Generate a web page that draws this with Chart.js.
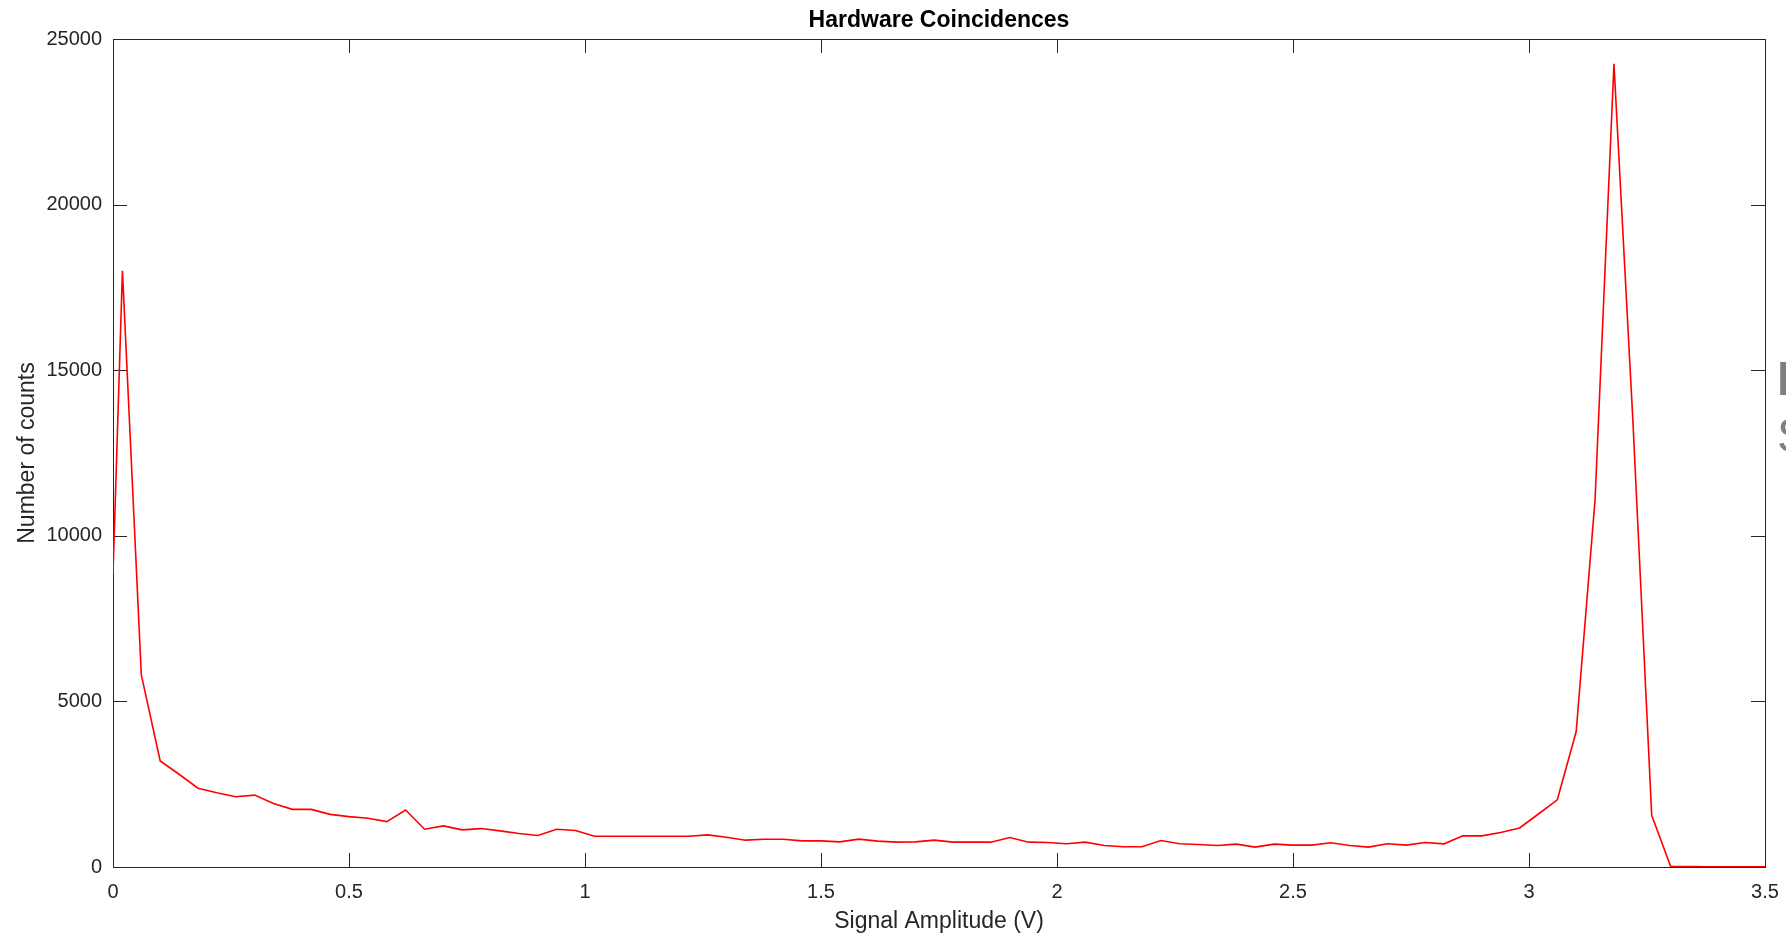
<!DOCTYPE html>
<html>
<head>
<meta charset="utf-8">
<title>Hardware Coincidences</title>
<script src="https://cdn.jsdelivr.net/npm/chart.js@4"></script>
<style>
    html, body { margin: 0; padding: 0; background: #fff; overflow: hidden; }
    #wrap { position: relative; width: 1786px; height: 938px; }
    .slide { position: absolute; left: 1777px; font-family: "Liberation Sans", Arial, sans-serif; font-size: 48px; line-height: 1; color: #7f7f7f; white-space: nowrap; }
</style>
</head>
<body>
<div id="wrap">
    <canvas id="coincChart" width="1786" height="938"></canvas>
    <div class="slide" style="top:355px;font-weight:bold;">F</div>
    <div class="slide" style="top:412px;">S</div>
</div>
<script>
// bin centres (V) and counts
const amplitude = [
    0, 0.02, 0.06, 0.10, 0.14, 0.18, 0.22, 0.26, 0.30, 0.34, 0.38, 0.42, 0.46, 0.50, 0.54, 0.58,
    0.62, 0.66, 0.70, 0.74, 0.78, 0.82, 0.86, 0.90, 0.94, 0.98, 1.02, 1.06, 1.10, 1.14, 1.18, 1.22,
    1.26, 1.30, 1.34, 1.38, 1.42, 1.46, 1.50, 1.54, 1.58, 1.62, 1.66, 1.70, 1.74, 1.78, 1.82, 1.86,
    1.90, 1.94, 1.98, 2.02, 2.06, 2.10, 2.14, 2.18, 2.22, 2.26, 2.30, 2.34, 2.38, 2.42, 2.46, 2.50,
    2.54, 2.58, 2.62, 2.66, 2.70, 2.74, 2.78, 2.82, 2.86, 2.90, 2.94, 2.98, 3.02, 3.06, 3.10, 3.14,
    3.18, 3.22, 3.26, 3.30, 3.34, 3.38, 3.42, 3.46, 3.50
];
const counts = [
    8850, 18000, 5800, 3200, 2800, 2380, 2240, 2120, 2170, 1920, 1740, 1740, 1590, 1520, 1470, 1370,
    1720, 1140, 1240, 1120, 1160, 1090, 1010, 950, 1140, 1100, 930, 930, 930, 930, 930, 930,
    970, 900, 810, 840, 840, 790, 790, 760, 840, 780, 750, 760, 810, 750, 750, 750,
    890, 750, 740, 700, 750, 650, 610, 610, 800, 700, 680, 650, 690, 600, 690, 660,
    660, 730, 650, 600, 700, 660, 740, 700, 940, 940, 1040, 1180, 1600, 2030, 4090, 11100,
    24250, 13500, 1560, 20, 10, 5, 5, 5, 5
];
const xTicks = [0, 0.5, 1, 1.5, 2, 2.5, 3, 3.5];
const yTicks = [0, 5000, 10000, 15000, 20000, 25000];

const FONT = '"Liberation Sans", Arial, Helvetica, sans-serif';
const axisColor = '#262626';
const tickLen = 14;

// MATLAB style box with inward tick marks on all four sides
const frameTicks = {
    id: 'frameTicks',
    beforeDatasetsDraw(chart) {
        const { ctx, chartArea: a, scales: { x, y } } = chart;
        ctx.save();
        ctx.strokeStyle = axisColor;
        ctx.lineWidth = 1;
        ctx.beginPath();
        x.ticks.forEach(t => {
            const px = Math.round(x.getPixelForValue(t.value)) + 0.5;
            ctx.moveTo(px, a.bottom); ctx.lineTo(px, a.bottom - tickLen);
            ctx.moveTo(px, a.top); ctx.lineTo(px, a.top + tickLen);
        });
        y.ticks.forEach(t => {
            const py = Math.round(y.getPixelForValue(t.value)) + 0.5;
            ctx.moveTo(a.left, py); ctx.lineTo(a.left + tickLen, py);
            ctx.moveTo(a.right, py); ctx.lineTo(a.right - tickLen, py);
        });
        ctx.stroke();
        ctx.strokeRect(Math.round(a.left) + 0.5, Math.round(a.top) + 0.5,
            Math.round(a.right - a.left), Math.round(a.bottom - a.top));
        ctx.restore();
    }
};

new Chart(document.getElementById('coincChart'), {
    type: 'line',
    data: {
        datasets: [{
            label: 'Counts',
            data: amplitude.map((v, i) => ({ x: v, y: counts[i] })),
            borderColor: '#ff0000',
            borderWidth: 1.6,
            pointRadius: 0,
            tension: 0,
            fill: false
        }]
    },
    options: {
        responsive: false,
        animation: false,
        devicePixelRatio: 1,
        layout: { padding: { left: 0, right: 21, top: 0, bottom: 0 } },
        scales: {
            x: {
                type: 'linear',
                min: 0,
                max: 3.5,
                afterFit: s => { s.height = 71; s.paddingLeft = 0; s.paddingRight = 0; },
                afterBuildTicks: s => { s.ticks = xTicks.map(v => ({ value: v })); },
                grid: { display: false, drawTicks: false },
                border: { display: false },
                ticks: {
                    autoSkip: false,
                    maxRotation: 0,
                    padding: 13,
                    color: axisColor,
                    font: { family: FONT, size: 20 },
                    callback: v => String(v)
                },
                title: {
                    display: true,
                    text: 'Signal Amplitude (V)',
                    color: axisColor,
                    font: { family: FONT, size: 23 },
                    padding: { top: 0, bottom: 3 }
                }
            },
            y: {
                type: 'linear',
                min: 0,
                max: 25000,
                afterFit: s => { s.width = 113; },
                afterBuildTicks: s => { s.ticks = yTicks.map(v => ({ value: v })); },
                grid: { display: false, drawTicks: false },
                border: { display: false },
                ticks: {
                    padding: 11,
                    color: axisColor,
                    font: { family: FONT, size: 20 },
                    callback: v => String(v)
                },
                title: {
                    display: true,
                    text: 'Number of counts',
                    color: axisColor,
                    font: { family: FONT, size: 23 },
                    padding: { top: 14, bottom: 0 }
                }
            }
        },
        plugins: {
            legend: { display: false },
            tooltip: { enabled: false },
            title: {
                display: true,
                text: 'Hardware Coincidences',
                color: '#000',
                fullSize: false,
                font: { family: FONT, size: 23, weight: 'bold' },
                padding: { top: 7, bottom: 4.4 }
            }
        }
    },
    plugins: [frameTicks]
});
</script>
</body>
</html>
